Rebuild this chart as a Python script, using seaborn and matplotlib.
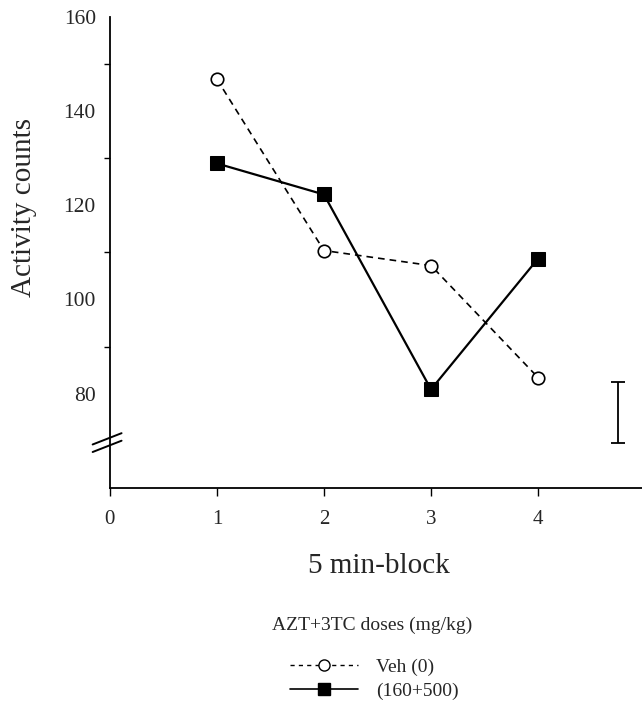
import matplotlib
matplotlib.use("Agg")
import matplotlib.pyplot as plt
from matplotlib.lines import Line2D
import seaborn as sns
import pandas as pd

# Activity counts per 5-minute block
blocks = [1, 2, 3, 4]
veh_counts = [146.8, 110.4, 107.2, 83.4]
drug_counts = [128.9, 122.3, 80.9, 108.7]
series_names = ["Veh (0)", "(160+500)"]
legend_title = "AZT+3TC doses (mg/kg)"

# pooled error bar shown at the right of the plot
err_x = 4.75
err_low, err_high = 69.6, 82.4

y_labels = [80, 100, 120, 140, 160]
y_ticks = [90, 110, 130, 150]
x_ticks = [0, 1, 2, 3, 4]

sns.set_theme(style="white")
plt.rcParams["font.family"] = ["Liberation Serif", "DejaVu Serif"]

fig = plt.figure(figsize=(6.42, 7.09), dpi=100)
ax = fig.add_axes([0.171, 0.312, 0.829, 0.664])

df = pd.DataFrame({
    "block": blocks * 2,
    "count": veh_counts + drug_counts,
    "dose": [series_names[0]] * 4 + [series_names[1]] * 4,
})

sns.lineplot(data=df[df.dose == series_names[0]], x="block", y="count", ax=ax,
             color="black", linestyle=(0, (4, 3)), linewidth=1.2, marker="o",
             markersize=9, markerfacecolor="white", markeredgecolor="black",
             markeredgewidth=1.2, legend=False)
sns.lineplot(data=df[df.dose == series_names[1]], x="block", y="count", ax=ax,
             color="black", linestyle="-", linewidth=1.6, marker="s",
             markersize=10, markerfacecolor="black", markeredgecolor="black",
             legend=False)

# error bar
ax.errorbar([err_x], [(err_low + err_high) / 2], yerr=[(err_high - err_low) / 2],
            color="black", capsize=5, elinewidth=1.3, capthick=1.3, fmt="none")

ax.set_xlim(0, 4.97)
ax.set_ylim(60, 160)

for s in ["top", "right"]:
    ax.spines[s].set_visible(False)
for s in ["left", "bottom"]:
    ax.spines[s].set_color("black")
    ax.spines[s].set_linewidth(1.3)

ax.set_xticks(x_ticks)
ax.set_xticklabels([str(v) for v in x_ticks], fontsize=15)
ax.tick_params(axis="x", direction="out", length=6, width=1, color="black", pad=10,
               bottom=True)

# y labels sit between short tick marks
ax.set_yticks(y_labels)
ax.set_yticklabels([str(v) for v in y_labels], fontsize=15.5)
ax.tick_params(axis="y", length=0, pad=10)
ax.set_yticks(y_ticks, minor=True)
ax.tick_params(axis="y", which="minor", direction="out", length=4, width=1,
               color="black", left=True)

ax.set_xlabel("5 min-block", fontsize=21)
ax.xaxis.set_label_coords(0.506, -0.138)
ax.set_ylabel("Activity counts", fontsize=21)
ax.yaxis.set_label_coords(-0.136, 0.595)
ax.grid(False)

# axis break marks near y = 70
for dy in (-0.8, 0.8):
    ax.plot([-0.16, 0.11], [69.6 + dy - 1.2, 69.6 + dy + 1.2], color="black",
            linewidth=1.4, clip_on=False, transform=ax.transData)

handles = [
    Line2D([], [], color="black", linestyle=(0, (3, 3)), linewidth=1.0, marker="o",
           markersize=8, markerfacecolor="white", markeredgecolor="black"),
    Line2D([], [], color="black", linestyle="-", linewidth=1.2, marker="s",
           markersize=9, markerfacecolor="black", markeredgecolor="black"),
]
fig.text(0.424, 0.118, legend_title, fontsize=14, ha="left", va="center")
fig.legend(handles, series_names, loc="upper left",
           bbox_to_anchor=(0.452, 0.071), frameon=False, fontsize=14,
           handlelength=3.5, handletextpad=0.9, labelspacing=0.3,
           numpoints=1, borderpad=0, borderaxespad=0)

fig.savefig("out.png", dpi=100)
